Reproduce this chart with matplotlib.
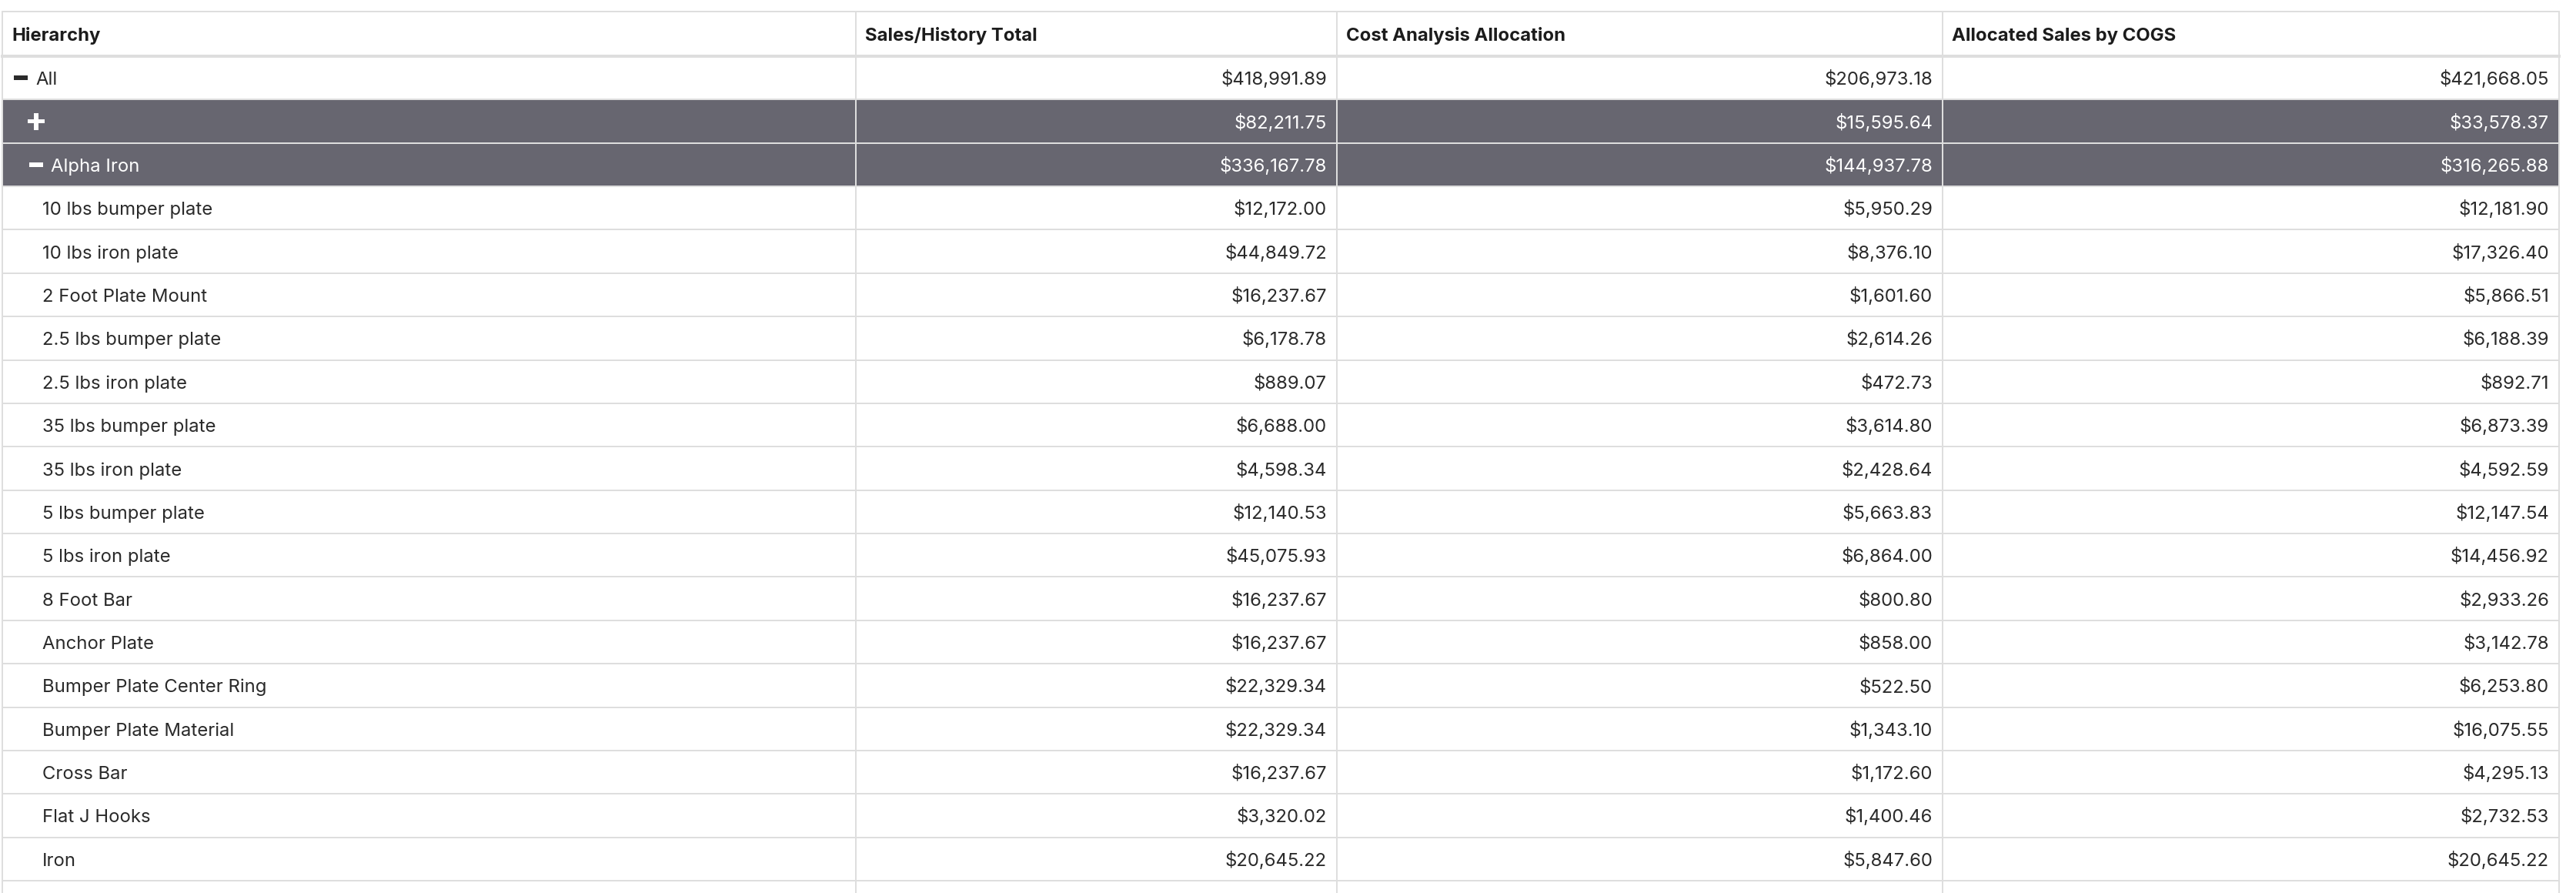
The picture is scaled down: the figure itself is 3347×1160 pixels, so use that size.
import matplotlib
matplotlib.use("Agg")
import matplotlib.pyplot as plt
from matplotlib.patches import Rectangle

plt.rcParams['font.family'] = ['Inter', 'DejaVu Sans']

# table data
columns = ['Hierarchy', 'Sales/History Total', 'Cost Analysis Allocation', 'Allocated Sales by COGS']
labels = ['All', '', 'Alpha Iron',
          '10 lbs bumper plate', '10 lbs iron plate', '2 Foot Plate Mount', '2.5 lbs bumper plate',
          '2.5 lbs iron plate', '35 lbs bumper plate', '35 lbs iron plate', '5 lbs bumper plate',
          '5 lbs iron plate', '8 Foot Bar', 'Anchor Plate', 'Bumper Plate Center Ring',
          'Bumper Plate Material', 'Cross Bar', 'Flat J Hooks', 'Iron']
levels = [0, 1, 1] + [2] * 16
icons = ['minus', 'plus', 'minus'] + [None] * 16
sales_total = [418991.89, 82211.75, 336167.78,
               12172.00, 44849.72, 16237.67, 6178.78, 889.07, 6688.00, 4598.34, 12140.53,
               45075.93, 16237.67, 16237.67, 22329.34, 22329.34, 16237.67, 3320.02, 20645.22]
cost_alloc = [206973.18, 15595.64, 144937.78,
              5950.29, 8376.10, 1601.60, 2614.26, 472.73, 3614.80, 2428.64, 5663.83,
              6864.00, 800.80, 858.00, 522.50, 1343.10, 1172.60, 1400.46, 5847.60]
alloc_cogs = [421668.05, 33578.37, 316265.88,
              12181.90, 17326.40, 5866.51, 6188.39, 892.71, 6873.39, 4592.59, 12147.54,
              14456.92, 2933.26, 3142.78, 6253.80, 16075.55, 4295.13, 2732.53, 20645.22]

W, H = 3348, 1160
fig = plt.figure(figsize=(W / 100, H / 100), dpi=100)
ax = fig.add_axes([0, 0, 1, 1])
ax.set_xlim(0, W)
ax.set_ylim(H, 0)
ax.axis('off')

col_x = [3, 1112, 1737, 2524, 3325]
top = 15
head_bot = 73
row_h = 56.37
grid = '#dedede'
dark = '#676670'
px = 0.72  # points per pixel
fs = 17.2

n = len(labels)
row_tops = [head_bot + i * row_h for i in range(n)]

# dark group rows
for i, lv in enumerate(levels):
    if lv == 1:
        ax.add_patch(Rectangle((col_x[0], row_tops[i]), col_x[-1] - col_x[0], row_h,
                               color=dark, lw=0, zorder=1))

# grid lines
ax.plot([col_x[0], col_x[-1]], [top, top], color=grid, lw=2 * px, zorder=3)
ax.plot([col_x[0], col_x[-1]], [head_bot, head_bot], color=grid, lw=4 * px, zorder=3)
for i in range(1, n + 1):
    y = head_bot + i * row_h
    ax.plot([col_x[0], col_x[-1]], [y, y], color=grid, lw=2 * px, zorder=3)
for x in col_x:
    ax.plot([x, x], [top, H], color=grid, lw=2 * px, zorder=3)

# header
for j, c in enumerate(columns):
    ax.text(col_x[j] + 12, 53, c, fontsize=fs, fontweight='bold', color='#1c1c1c',
            ha='left', va='baseline', zorder=4)

# rows
icon_x = {0: 27, 1: 47}
text_x = {0: 46, 1: 66, 2: 55}
for i in range(n):
    y0 = row_tops[i]
    base = y0 + row_h / 2 + 9
    fg = 'white' if levels[i] == 1 else '#2a2a2a'
    cx = icon_x.get(levels[i])
    cy = y0 + row_h / 2
    if icons[i] == 'minus':
        ax.add_patch(Rectangle((cx - 9, cy - 2.7), 18, 5.4, color=fg, lw=0, zorder=4))
    elif icons[i] == 'plus':
        ax.add_patch(Rectangle((cx - 11, cy - 2.8), 22, 5.6, color=fg, lw=0, zorder=4))
        ax.add_patch(Rectangle((cx - 2.8, cy - 11), 5.6, 22, color=fg, lw=0, zorder=4))
    ax.text(text_x[levels[i]], base, labels[i], fontsize=fs, color=fg,
            ha='left', va='baseline', zorder=4)
    for j, vals in enumerate([sales_total, cost_alloc, alloc_cogs]):
        ax.text(col_x[j + 2] - 13, base, '${:,.2f}'.format(vals[i]), fontsize=fs, color=fg,
                ha='right', va='baseline', zorder=4)

fig.savefig('out.png', dpi=100, facecolor='white')
